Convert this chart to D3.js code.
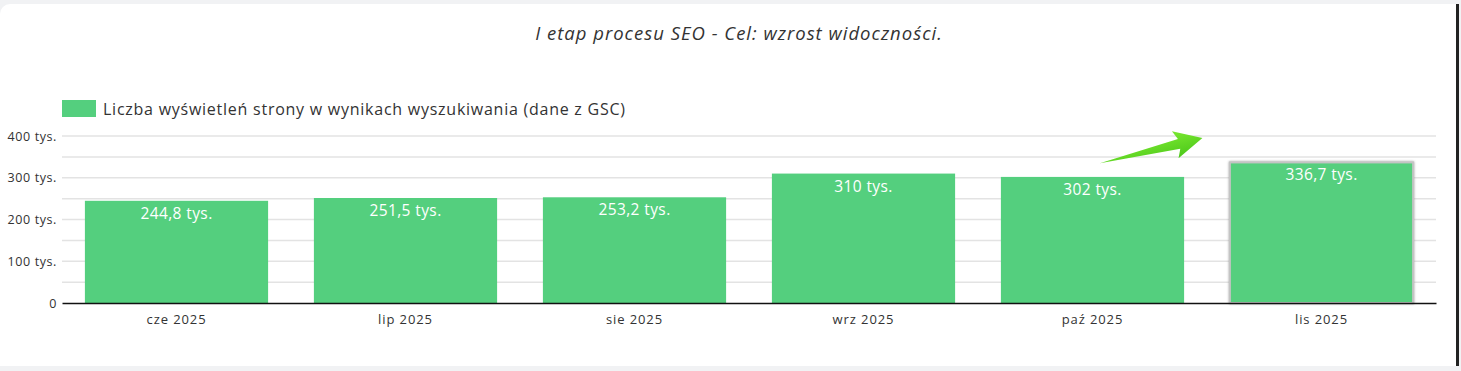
<!DOCTYPE html>
<html>
<head>
<meta charset="utf-8">
<script src="https://cdn.jsdelivr.net/npm/d3@7"></script>
<style>
  html, body { margin: 0; padding: 0; background: #f1f2f4; }
  body { width: 1461px; height: 371px; overflow: hidden; position: relative; }
  #card { position: absolute; left: 0; top: 4px; width: 1456px; height: 362px; background: #fff;
          border-radius: 10px 0 0 0; border-right: 3px solid #222; }
  svg { position: absolute; left: 0; top: 0; }
</style>
</head>
<body>
<div id="card"></div>
<div id="my_dataviz"></div>
<script>
// data
var months = ["cze 2025", "lip 2025", "sie 2025", "wrz 2025", "paź 2025", "lis 2025"];
var views = [244800, 251500, 253200, 310000, 302000, 336700];
var valueLabels = ["244,8 tys.", "251,5 tys.", "253,2 tys.", "310 tys.", "302 tys.", "336,7 tys."];
var yTicks = [0, 100000, 200000, 300000, 400000];
var yTickLabels = ["0", "100 tys.", "200 tys.", "300 tys.", "400 tys."];
var title = "I etap procesu SEO - Cel: wzrost widoczności.";
var seriesName = "Liczba wyświetleń strony w wynikach wyszukiwania (dane z GSC)";

var data = months.map(function(m, i) { return {group: m, value: views[i], label: valueLabels[i]}; });

var font = "'Open Sans', Lato, sans-serif";
var margin = {top: 136, right: 25, bottom: 68, left: 62},
    width = 1461 - margin.left - margin.right,
    height = 371 - margin.top - margin.bottom;

var root = d3.select("#my_dataviz")
  .append("svg")
    .attr("width", 1461)
    .attr("height", 371)
    .style("font-family", font);

// title
root.append("text")
  .attr("x", 739)
  .attr("y", 40)
  .attr("text-anchor", "middle")
  .attr("font-size", 18.5)
  .attr("font-style", "italic")
  .attr("letter-spacing", 1)
  .attr("fill", "#333")
  .text(title);

// legend
root.append("rect")
  .attr("x", 62).attr("y", 100).attr("width", 34).attr("height", 17)
  .attr("fill", "#54cf7e");
root.append("text")
  .attr("x", 103).attr("y", 115)
  .attr("font-size", 16)
  .attr("letter-spacing", 0.75)
  .attr("fill", "#333")
  .text(seriesName);

var svg = root.append("g")
  .attr("transform", "translate(" + margin.left + "," + margin.top + ")");

var x = d3.scaleBand()
  .domain(months)
  .range([0, width])
  .paddingInner(0.2)
  .paddingOuter(0.1);

var y = d3.scaleLinear()
  .domain([0, 400000])
  .range([height, 0]);

// gridlines every 50k
svg.append("g")
  .selectAll("line")
  .data(d3.range(50000, 400001, 50000))
  .enter().append("line")
    .attr("x1", 0).attr("x2", width)
    .attr("y1", function(d) { return y(d); })
    .attr("y2", function(d) { return y(d); })
    .attr("stroke", "#e3e3e3")
    .attr("stroke-width", 1.5);

// y axis
var yAxis = svg.append("g")
  .call(d3.axisLeft(y).tickValues(yTicks).tickSize(0).tickPadding(5)
    .tickFormat(function(d, i) { return yTickLabels[i]; }));
yAxis.select(".domain").remove();
yAxis.selectAll("text").attr("font-size", 12.5).attr("letter-spacing", 0.6)
  .attr("fill", "#333").style("font-family", font);

// shadow for highlighted bar
var defs = root.append("defs");
var f = defs.append("filter").attr("id", "shadow").attr("x", "-5%").attr("y", "-5%").attr("width", "110%").attr("height", "110%");
f.append("feDropShadow").attr("dx", 0).attr("dy", 0).attr("stdDeviation", 1.2).attr("flood-color", "#888").attr("flood-opacity", 0.8);

// bars
svg.selectAll("rect.bar")
  .data(data)
  .enter().append("rect")
    .attr("class", "bar")
    .attr("x", function(d) { return x(d.group); })
    .attr("y", function(d) { return y(d.value); })
    .attr("width", x.bandwidth())
    .attr("height", function(d) { return height - y(d.value); })
    .attr("fill", "#54cf7e")
    .attr("stroke", function(d, i) { return i === data.length - 1 ? "#c4c4c4" : "none"; })
    .attr("stroke-width", 2)
    .attr("filter", function(d, i) { return i === data.length - 1 ? "url(#shadow)" : null; });

// value labels
svg.selectAll("text.val")
  .data(data)
  .enter().append("text")
    .attr("class", "val")
    .attr("x", function(d) { return x(d.group) + x.bandwidth() / 2; })
    .attr("y", function(d) { return y(d.value) + 18; })
    .attr("text-anchor", "middle")
    .attr("font-size", 15.5)
    .attr("letter-spacing", 0.4)
    .attr("fill", "#fff")
    .text(function(d) { return d.label; });

// x axis
var xAxis = svg.append("g")
  .attr("transform", "translate(0," + height + ")")
  .call(d3.axisBottom(x).tickSize(0).tickPadding(12));
xAxis.select(".domain").attr("stroke", "#111").attr("stroke-width", 1.5);
xAxis.selectAll("text").attr("font-size", 13).attr("letter-spacing", 0.9)
  .attr("fill", "#333").style("font-family", font);

// trend arrow between the last two bars
var ax0 = x("paź 2025") + x.bandwidth() * 0.54, ay0 = y(335000);
var ax1 = x("lis 2025") - x.bandwidth() * 0.15, ay1 = y(395000);
var ang = Math.atan2(ay1 - ay0, ax1 - ax0);
var len = Math.hypot(ax1 - ax0, ay1 - ay0);
var arrow = svg.append("g")
  .attr("transform", "translate(" + ax0 + "," + ay0 + ") rotate(" + (ang * 180 / Math.PI) + ")");
var grad = defs.append("linearGradient").attr("id", "arrowGrad").attr("x1", 0).attr("y1", 0).attr("x2", 0).attr("y2", 1);
grad.append("stop").attr("offset", "0%").attr("stop-color", "#7ae830");
grad.append("stop").attr("offset", "100%").attr("stop-color", "#4cc81a");
arrow.append("path")
  .attr("d", "M0,0 L" + (len - 24) + ",-5 L" + (len - 28) + ",-14 L" + len + ",0 L" + (len - 28) + ",14 L" + (len - 24) + ",5 Z")
  .attr("fill", "url(#arrowGrad)");
</script>
</body>
</html>
